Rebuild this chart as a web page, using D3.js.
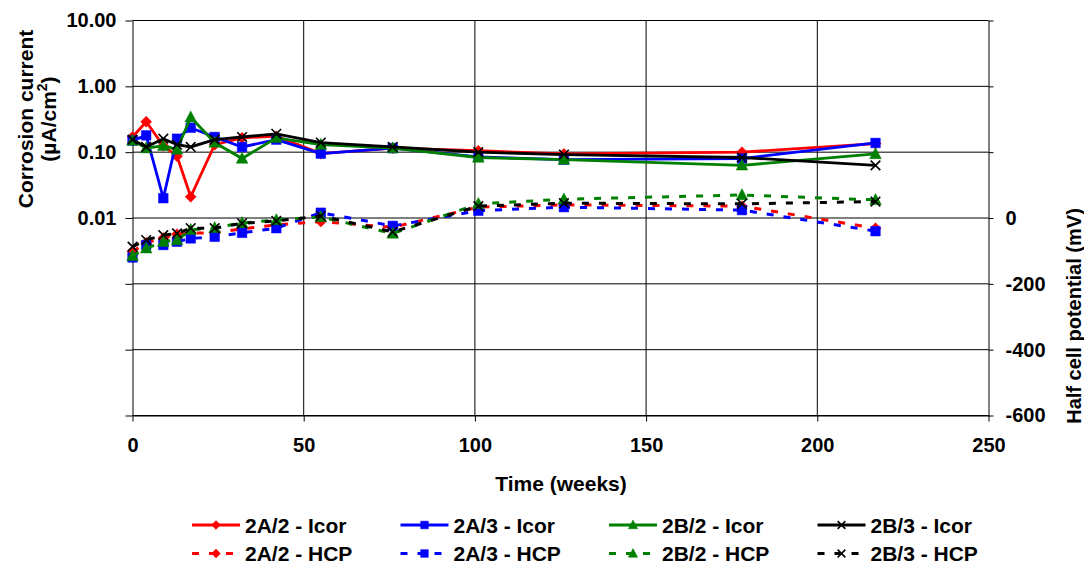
<!DOCTYPE html>
<html><head><meta charset="utf-8">
<script src="https://cdn.jsdelivr.net/npm/d3@7"></script>
<style>
html,body{margin:0;padding:0;background:#fff;}
text{font-family:"Liberation Sans",Arial,sans-serif;font-weight:bold;fill:#000;}
</style></head>
<body><svg id="c" width="1084" height="567"></svg>
<script>
const weeks = [0, 4, 9, 13, 17, 24, 32, 42, 55, 76, 101, 126, 178, 217];

const icor_2A2 = [0.17, 0.29, 0.125, 0.087, 0.021, 0.13, 0.165, 0.175, 0.095, 0.115, 0.105, 0.094, 0.10, 0.135];
const icor_2A3 = [0.15, 0.18, 0.020, 0.16, 0.235, 0.17, 0.12, 0.155, 0.095, 0.115, 0.085, 0.077, 0.08, 0.138];
const icor_2B2 = [0.15, 0.115, 0.125, 0.11, 0.34, 0.14, 0.08, 0.165, 0.13, 0.115, 0.083, 0.077, 0.063, 0.094];
const icor_2B3 = [0.155, 0.12, 0.16, 0.13, 0.12, 0.155, 0.17, 0.19, 0.14, 0.12, 0.10, 0.092, 0.083, 0.063];

const hcp_2A2 = [-102, -75, -61, -49, -46, -45, -33, -21, -11, -28, 33, 40, 36, -31];
const hcp_2A3 = [-120, -82, -82, -72, -62, -57, -45, -31, 16, -24, 22, 33, 24, -40];
const hcp_2B2 = [-115, -92, -72, -67, -36, -30, -15, -6, 3, -47, 43, 57, 70, 55];
const hcp_2B3 = [-87, -67, -52, -47, -31, -31, -16, -9, 6, -42, 36, 45, 43, 50];

const xTicks = [0, 50, 100, 150, 200, 250];
const leftTicks = [10, 1, 0.1, 0.01, 0.001, 0.0001, 0.00001];
const leftTickLabels = ["10.00", "1.00", "0.10", "0.01", "", "", ""];
const rightTicks = [600, 400, 200, 0, -200, -400, -600];
const rightTickLabels = ["", "", "", "0", "-200", "-400", "-600"];

const seriesNames = ["2A/2", "2A/3", "2B/2", "2B/3"];
const seriesColors = ["#ff0000", "#0000ff", "#008000", "#000000"];
const seriesMarkers = ["diamond", "square", "triangle", "x"];

const svg = d3.select("#c");
svg.append("rect").attr("width",1084).attr("height",567).attr("fill","#fff");

const L = 132.5, R = 988.5, T = 20.5, B = 415.5;
const x = d3.scaleLinear().domain([0,250]).range([L,R]);
const yL = d3.scaleLog().domain([0.00001,10]).range([B,T]);
const yR = d3.scaleLinear().domain([-600,600]).range([B,T]);

// gridlines
const g = svg.append("g");
g.selectAll("line.h").data(leftTicks).join("line")
  .attr("x1",L).attr("x2",R).attr("y1",d=>yL(d)).attr("y2",d=>yL(d))
  .attr("stroke","#000").attr("stroke-width",1);
g.selectAll("line.v").data(xTicks.filter(d=>d>0&&d<250)).join("line")
  .attr("x1",d=>x(d)).attr("x2",d=>x(d)).attr("y1",T).attr("y2",B)
  .attr("stroke","#000").attr("stroke-width",1);

// axes
const axL = svg.append("g").attr("transform",`translate(${L},0)`)
  .call(d3.axisLeft(yL).tickValues(leftTicks).tickFormat((d,i)=>leftTickLabels[i]).tickSize(7).tickSizeOuter(0).tickPadding(9));
const axR = svg.append("g").attr("transform",`translate(${R},0)`)
  .call(d3.axisRight(yR).tickValues(rightTicks).tickFormat((d,i)=>rightTickLabels[i]).tickSize(5).tickSizeOuter(0).tickPadding(12));
const axB = svg.append("g").attr("transform",`translate(0,${B})`)
  .call(d3.axisBottom(x).tickValues(xTicks).tickFormat(d3.format("d")).tickSize(6).tickSizeOuter(0).tickPadding(20));
[axL,axR,axB].forEach(a=>{
  a.selectAll("path.domain").attr("stroke","#000").attr("stroke-width",1);
  a.selectAll(".tick line").attr("stroke","#000");
  a.selectAll("text").attr("font-size",20).attr("font-family","Liberation Sans, Arial, sans-serif").attr("font-weight","bold").attr("fill","#000");
});
axB.selectAll("text").attr("dy","0.5em");

// titles
svg.append("text").attr("x",561).attr("y",491).attr("text-anchor","middle").attr("font-size",21).text("Time (weeks)");
const lt = svg.append("text").attr("transform","translate(33,119) rotate(-90)").attr("text-anchor","middle").attr("font-size",21);
lt.text("Corrosion current");
const lt2 = svg.append("text").attr("transform","translate(56,119) rotate(-90)").attr("text-anchor","middle").attr("font-size",21);
lt2.append("tspan").text("(µA/cm");
lt2.append("tspan").attr("font-size",14).attr("dy",-9).text("2");
lt2.append("tspan").attr("dy",9).text(")");
svg.append("text").attr("transform","translate(1081,316) rotate(-90)").attr("text-anchor","middle").attr("font-size",20).text("Half cell potential (mV)");

// markers
function markerPath(type, s){
  if(type==="diamond") return `M0,${-5.5*s}L${5.5*s},0L0,${5.5*s}L${-5.5*s},0Z`;
  if(type==="square") return `M${-4.8*s},${-4.8*s}H${4.8*s}V${4.8*s}H${-4.8*s}Z`;
  if(type==="triangle") return `M0,${-6.3*s}L${5.8*s},${4.7*s}L${-5.8*s},${4.7*s}Z`;
  return `M${-4.8*s},${-4.8*s}L${4.8*s},${4.8*s}M${-4.8*s},${4.8*s}L${4.8*s},${-4.8*s}`;
}
function drawMarker(sel, type, color, s){
  sel.append("path").attr("d",markerPath(type, s))
    .attr("fill", type==="x" ? "none" : color)
    .attr("stroke", color).attr("stroke-width", type==="x" ? 1.6 : 0.5);
}

const icorData = [icor_2A2, icor_2A3, icor_2B2, icor_2B3];
const hcpData = [hcp_2A2, hcp_2A3, hcp_2B2, hcp_2B3];

const lineL = d3.line().x((d,i)=>x(weeks[i])).y(d=>yL(d));
const lineR = d3.line().x((d,i)=>x(weeks[i])).y(d=>yR(d));

const plot = svg.append("g");
hcpData.forEach((vals,k)=>{
  const s = plot.append("g");
  s.append("path").datum(vals).attr("d",lineR).attr("fill","none")
    .attr("stroke",seriesColors[k]).attr("stroke-width",3).attr("stroke-dasharray","7,10");
  vals.forEach((v,i)=>{
    const m = s.append("g").attr("transform",`translate(${x(weeks[i])},${yR(v)})`);
    drawMarker(m, seriesMarkers[k], seriesColors[k], 1);
  });
});
icorData.forEach((vals,k)=>{
  const s = plot.append("g");
  s.append("path").datum(vals).attr("d",lineL).attr("fill","none")
    .attr("stroke",seriesColors[k]).attr("stroke-width",2.8);
  vals.forEach((v,i)=>{
    const m = s.append("g").attr("transform",`translate(${x(weeks[i])},${yL(v)})`);
    drawMarker(m, seriesMarkers[k], seriesColors[k], 1);
  });
});

// legend
const legX0 = 192, legDX = 208.5, legY = [525, 553.5];
seriesNames.forEach((n,k)=>{
  [0,1].forEach(r=>{
    const gx = legX0 + k*legDX, gy = legY[r];
    const lg = svg.append("g");
    lg.append("line").attr("x1",gx).attr("x2",gx+48).attr("y1",gy).attr("y2",gy)
      .attr("stroke",seriesColors[k]).attr("stroke-width",r===0?2.8:3)
      .attr("stroke-dasharray", r===0 ? null : "7,10");
    const m = lg.append("g").attr("transform",`translate(${gx+24},${gy})`);
    drawMarker(m, seriesMarkers[k], seriesColors[k], 0.8);
    lg.append("text").attr("x",gx+53).attr("y",gy+7.5).attr("font-size",21)
      .text(n + (r===0 ? " - Icor" : " - HCP"));
  });
});
</script></body></html>
